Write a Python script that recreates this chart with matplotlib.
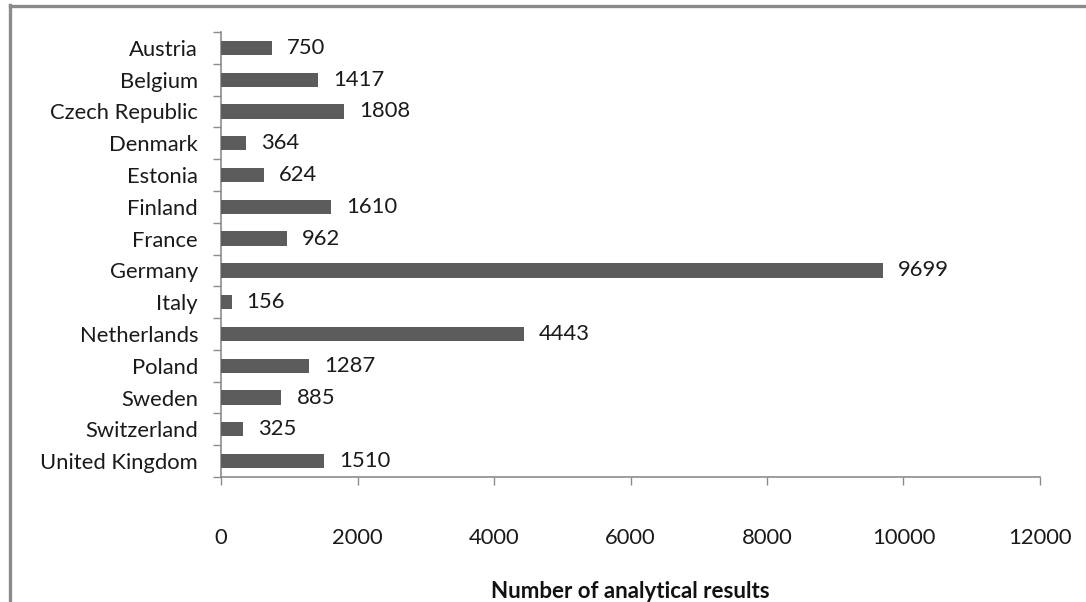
import matplotlib
matplotlib.use("Agg")
import matplotlib.pyplot as plt
from matplotlib.lines import Line2D

countries = ["Austria", "Belgium", "Czech Republic", "Denmark", "Estonia", "Finland",
             "France", "Germany", "Italy", "Netherlands", "Poland", "Sweden",
             "Switzerland", "United Kingdom"]
results = [750, 1417, 1808, 364, 624, 1610, 962, 9699, 156, 4443, 1287, 885, 325, 1510]
x_ticks = [0, 2000, 4000, 6000, 8000, 10000, 12000]

plt.rcParams["font.family"] = ["Lato", "DejaVu Sans"]

W, H = 1086, 602
fig = plt.figure(figsize=(W / 100, H / 100), dpi=100)
ax = fig.add_axes([221 / W, 1 - 477 / H, (1040 - 221) / W, (477 - 32) / H])

FS = 15.8
n = len(countries)
pos = list(range(n))
ax.barh(pos, results, height=0.45, color="#5c5c5c", zorder=3)
for p, v in zip(pos, results):
    ax.annotate(str(v), (v, p), xytext=(15, 0), textcoords="offset pixels",
                va="center", ha="left", fontsize=FS, color="#1a1a1a")

ax.set_ylim(n - 0.5, -0.5)
ax.set_xlim(0, 12000)
ax.set_xticks(x_ticks)
ax.set_xticklabels([str(t) for t in x_ticks])

# category labels centred on bars, tick marks on category boundaries
ax.set_yticks(pos)
ax.set_yticklabels(countries)
ax.set_yticks([i - 0.5 for i in range(n + 1)], minor=True)
ax.tick_params(axis="y", which="major", length=0, pad=16.5, labelsize=FS, labelcolor="#1a1a1a")
ax.tick_params(axis="y", which="minor", length=8 * 0.72, color="#8c8c8c", width=1)
ax.tick_params(axis="x", which="major", length=8 * 0.72, color="#8c8c8c", width=1, pad=31,
               labelsize=FS, labelcolor="#1a1a1a")

for s in ["top", "right"]:
    ax.spines[s].set_visible(False)
for s in ["left", "bottom"]:
    ax.spines[s].set_color("#8c8c8c")
    ax.spines[s].set_linewidth(1.2)

ax.set_xlabel("Number of analytical results", fontsize=16, fontweight="bold",
              color="#111111", labelpad=24)

# outer chart-area frame (left and top edges)
fig.add_artist(Line2D([9.5 / W, 9.5 / W], [0, 1 - 5 / H], transform=fig.transFigure,
                      color="#8a8a8a", lw=2.4))
fig.add_artist(Line2D([9.5 / W, 1], [1 - 6 / H, 1 - 6 / H], transform=fig.transFigure,
                      color="#8a8a8a", lw=2.4))

fig.savefig("out.png", dpi=100)
